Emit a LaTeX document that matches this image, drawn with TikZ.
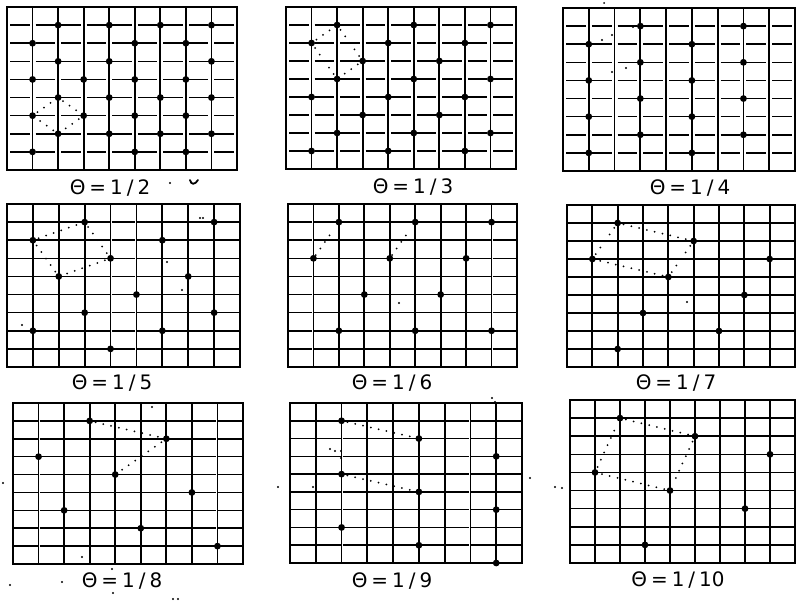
\documentclass[tikz,border=0pt]{standalone}
\usepackage{fontspec}
\setmainfont{DejaVu Sans}
\newcommand\mkpanel[6]{%
  \foreach \i in {0,...,9}{\foreach \j in {0,...,9}{%
    \coordinate (#1-\i-\j) at ({#2+\i*(#4-#2)/9},{#3+\j*(#5-#3)/9});}}%
  \foreach \i in {1,...,8}{\draw[gridv] (#1-\i-0) -- (#1-\i-9);}%
  \foreach \j in {1,...,8}{\foreach \i in {0,...,8}{%
    \pgfmathtruncatemacro\ii{\i+1}%
    \draw[gridh] ([xshift=#6bp]#1-\i-\j) -- ([xshift=-#6bp]#1-\ii-\j);}}%
  \draw[border] (#1-0-0) rectangle (#1-9-9);%
}
\newcommand\dts[2]{\foreach \p in {#2}{\fill[dotc] (#1-\p) circle (3.4bp);}}
\begin{document}
\begin{tikzpicture}[x=1bp,y=-1bp,
  border/.style={line width=2.1bp},
  gridv/.style={line width=1.7bp},
  gridh/.style={line width=1.6bp},
  dotc/.style={fill=black},
  dotl/.style={line width=2bp, line cap=round, dash pattern=on 0bp off 8bp, shorten >=6bp, shorten <=6bp},
  speck/.style={fill=black},
  lbl/.style={font=\fontsize{20}{20}\selectfont, inner sep=0pt, anchor=center}]
\useasboundingbox (0,0) rectangle (796,602);
\fill[white] (0,0) rectangle (796,602);

% ---------- row 1 ----------
\mkpanel{P1}{7}{7}{237}{170}{3}
\dts{P1}{2-1,4-1,6-1,8-1,1-2,5-2,7-2,2-3,4-3,8-3,1-4,3-4,5-4,7-4,2-5,4-5,6-5,8-5,1-6,3-6,5-6,7-6,2-7,4-7,6-7,8-7,1-8,5-8,7-8}
\draw[dotl] (P1-1-6) -- (P1-2-5);
\draw[dotl] (P1-2-5) -- (P1-3-6);
\draw[dotl] (P1-3-6) -- (P1-2-7);
\draw[dotl] (P1-2-7) -- (P1-1-6);

\mkpanel{P2}{286}{7}{516}{169}{3}
\dts{P2}{2-1,5-1,8-1,1-2,4-2,7-2,3-3,6-3,2-4,5-4,8-4,1-5,4-5,7-5,3-6,6-6,2-7,5-7,8-7,1-8,4-8,7-8}
\draw[dotl] (P2-1-2) -- (P2-2-1);
\draw[dotl] (P2-2-1) -- (P2-3-3);
\draw[dotl] (P2-3-3) -- (P2-2-4);
\draw[dotl] (P2-2-4) -- (P2-1-2);

\mkpanel{P3}{563}{8}{795}{171}{3}
\dts{P3}{3-1,7-1,1-2,5-2,3-3,7-3,1-4,5-4,3-5,7-5,1-6,5-6,3-7,7-7,1-8,5-8}
\foreach \q in {(602,40),(612,35),(612,72),(626,68),(633,27)}{\fill[speck] \q circle (1.1bp);}
\fill[speck] (604,3) circle (1bp);

% ---------- row 2 ----------
\mkpanel{P4}{7}{204}{240}{367}{1}
\dts{P4}{3-1,8-1,1-2,6-2,4-3,2-4,7-4,5-5,3-6,8-6,1-7,6-7,4-8}
\draw[dotl] (P4-1-2) -- (P4-3-1);
\draw[dotl] (P4-3-1) -- (P4-4-3);
\draw[dotl] (P4-4-3) -- (P4-2-4);
\draw[dotl] (P4-2-4) -- (P4-1-2);
\foreach \q in {(200,218),(203,218),(167,262),(182,290),(22,325)}{\fill[speck] \q circle (1.1bp);}

\mkpanel{P5}{288}{204}{517}{367}{1}
\dts{P5}{2-1,5-1,8-1,1-3,4-3,7-3,3-5,6-5,2-7,5-7,8-7}
\draw[dotl, shorten <=4bp, shorten >=9bp] (P5-1-3) -- (P5-2-1);
\draw[dotl, shorten <=4bp, shorten >=9bp] (P5-4-3) -- (P5-5-1);
\fill[speck] (399,303) circle (1.1bp);

\mkpanel{P6}{567}{205}{795}{367}{1}
\dts{P6}{2-1,5-2,1-3,8-3,4-4,7-5,3-6,6-7,2-8}
\draw[dotl] (P6-1-3) -- (P6-2-1);
\draw[dotl] (P6-2-1) -- (P6-5-2);
\draw[dotl] (P6-5-2) -- (P6-4-4);
\draw[dotl] (P6-4-4) -- (P6-1-3);
\fill[speck] (687,302) circle (1.1bp);

% ---------- row 3 ----------
\mkpanel{P7}{13}{403}{243}{564}{1}
\dts{P7}{3-1,6-2,1-3,4-4,7-5,2-6,5-7,8-8}
\draw[dotl] (P7-3-1) -- (P7-6-2);
\draw[dotl] (P7-6-2) -- (P7-4-4);
\foreach \q in {(152,407),(82,557),(3,483),(10,585),(62,582),(112,569),(113,593),(173,599),(178,599)}{\fill[speck] \q circle (1.1bp);}

\mkpanel{P8}{290}{403}{522}{563}{1}
\dts{P8}{2-1,5-2,8-3,2-4,5-5,8-6,2-7,5-8,8-9}
\draw[dotl] (P8-2-1) -- (P8-5-2);
\draw[dotl] (P8-2-4) -- (P8-5-5);
\foreach \q in {(330,449),(335,451),(341,451),(341,458),(278,487),(313,487),(530,478),(492,398),(495,402)}{\fill[speck] \q circle (1.1bp);}

\mkpanel{P9}{570}{400}{795}{563}{1}
\dts{P9}{2-1,5-2,8-3,1-4,4-5,7-6,3-8}
\draw[dotl] (P9-1-4) -- (P9-2-1);
\draw[dotl] (P9-2-1) -- (P9-5-2);
\draw[dotl] (P9-5-2) -- (P9-4-5);
\draw[dotl] (P9-4-5) -- (P9-1-4);
\foreach \q in {(555,487),(562,488)}{\fill[speck] \q circle (1.1bp);}

% ---------- labels ----------
\node[lbl] (L1) at (110,188) {Θ\kern4bp=\kern4bp1\kern4bp/\kern4bp2};
\fill[speck] (170,183) circle (1.2bp);
\draw[line width=1.8bp, line cap=round] (190,180) .. controls (191,185) and (195,185) .. (198,180);
\node[lbl] (L2) at (413,187) {Θ\kern4bp=\kern4bp1\kern4bp/\kern4bp3};
\node[lbl] (L3) at (690,188) {Θ\kern4bp=\kern4bp1\kern4bp/\kern4bp4};
\node[lbl] (L4) at (112,383) {Θ\kern4bp=\kern4bp1\kern4bp/\kern4bp5};
\node[lbl] (L5) at (392,383) {Θ\kern4bp=\kern4bp1\kern4bp/\kern4bp6};
\node[lbl] (L6) at (676,383) {Θ\kern4bp=\kern4bp1\kern4bp/\kern4bp7};
\node[lbl] (L7) at (122,581) {Θ\kern4bp=\kern4bp1\kern4bp/\kern4bp8};
\node[lbl] (L8) at (392,581) {Θ\kern4bp=\kern4bp1\kern4bp/\kern4bp9};
\node[lbl] (L9) at (678,580) {Θ\kern4bp=\kern4bp1\kern4bp/\kern4bp10};
\end{tikzpicture}
\end{document}
